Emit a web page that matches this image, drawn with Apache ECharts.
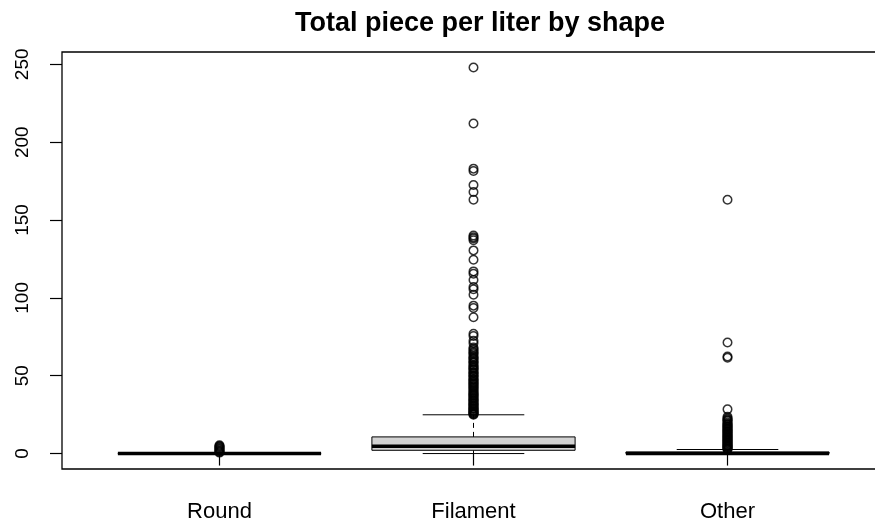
<!DOCTYPE html>
<html>
<head>
<meta charset="utf-8">
<title>Total piece per liter by shape</title>
<script src="https://cdn.jsdelivr.net/npm/echarts@6/dist/echarts.min.js"></script>
<style>
  html, body { margin: 0; padding: 0; background: #fff; }
  #chart { width: 875px; height: 521px; }
</style>
</head>
<body>
<div id="chart"></div>
<script>
// Shapes on the x axis
const categories = ['Round', 'Filament', 'Other'];
const yTicks = [0, 50, 100, 150, 200, 250];

// Five-number summaries per shape (lower whisker, Q1, median, Q3, upper whisker)
const boxMin = [0, 0, 0];
const boxQ1 = [0, 2.1, 0];
const boxMedian = [0, 4.7, 0];
const boxQ3 = [0, 10.7, 1.0];
const boxMax = [0, 24.9, 2.6];

// Points beyond the whiskers
const roundOutliers = [0.6, 1.1, 1.7, 2.2, 2.8, 3.3, 3.9, 4.4, 4.9, 5.3];
const filamentOutliers = [
  248, 212, 183, 181.5, 172.5, 168, 163, 140, 139, 138.2, 137, 130.5, 124.5,
  117, 115.5, 111.5, 107, 105.5, 102, 95, 93.5, 87.5, 77, 75.5, 72.5, 70.9,
  68.1, 67.2, 66.4, 65.2, 64.6, 63.8, 62.5, 61.7, 61.1, 60.4, 59.3, 58.7,
  58.1, 56.9, 56.2, 55.5, 54.8, 54.1, 53.6, 52.3, 51.9, 51.5, 50.2, 49.8,
  49.4, 48, 47.6, 47.2, 46.3, 45.7, 45.1, 44.5, 43.8, 43.2, 42.6, 41.9, 41.3,
  40.5, 39.8, 39.1, 38.6, 37.9, 37.4, 37, 36.1, 35.6, 35, 34.2, 33.9, 33.5,
  32.4, 32, 31.8, 31, 30.5, 30.1, 29.3, 28.9, 28.6, 28, 27.4, 27.1, 26.5,
  26.1, 25.8, 25.2, 24.9
];
const otherOutliers = [
  163, 71.3, 62.3, 61.5, 28.4, 23.6, 22.7, 22, 21.4, 21, 20.1, 19.3, 18.8,
  18.4, 17.6, 17.2, 16.9, 16, 15.6, 15.3, 14.5, 14.1, 13.8, 13, 12.6, 12.3,
  11.5, 11.1, 10.8, 10.1, 9.7, 9.4, 8.6, 8.3, 8, 7.3, 6.9, 6.5, 5.9, 5.5,
  5.2, 4.6, 4.3, 4, 3.3, 3.1, 2.8
];

const FONT = "'Liberation Sans', Arial, sans-serif";

const boxData = categories.map((c, i) => [i + 1, boxMin[i], boxQ1[i], boxMedian[i], boxQ3[i], boxMax[i]]);
const outlierData = [];
[roundOutliers, filamentOutliers, otherOutliers].forEach((list, i) => {
  list.forEach(v => outlierData.push([i + 1, v]));
});

function renderBox(params, api) {
  const x = api.value(0);
  const pMin = api.coord([x, api.value(1)]);
  const pQ1 = api.coord([x, api.value(2)]);
  const pMed = api.coord([x, api.value(3)]);
  const pQ3 = api.coord([x, api.value(4)]);
  const pMax = api.coord([x, api.value(5)]);
  const boxW = api.size([0.8, 0])[0];
  const halfBox = boxW / 2;
  const halfStaple = boxW / 4;
  const cx = pMed[0];
  const thin = { stroke: '#000', lineWidth: 1 };
  const dashed = { stroke: '#000', lineWidth: 1, lineDash: [5, 4] };
  return {
    type: 'group',
    children: [
      { type: 'line', shape: { x1: cx, y1: pQ1[1], x2: cx, y2: pMin[1] }, style: dashed },
      { type: 'line', shape: { x1: cx, y1: pQ3[1], x2: cx, y2: pMax[1] }, style: dashed },
      { type: 'line', shape: { x1: cx - halfStaple, y1: pMin[1], x2: cx + halfStaple, y2: pMin[1] }, style: thin },
      { type: 'line', shape: { x1: cx - halfStaple, y1: pMax[1], x2: cx + halfStaple, y2: pMax[1] }, style: thin },
      {
        type: 'rect',
        shape: { x: cx - halfBox, y: pQ3[1], width: boxW, height: pQ1[1] - pQ3[1] },
        style: { fill: '#d3d3d3', stroke: '#000', lineWidth: 1 }
      },
      { type: 'line', shape: { x1: cx - halfBox, y1: pMed[1], x2: cx + halfBox, y2: pMed[1] }, style: { stroke: '#000', lineWidth: 3.5 } }
    ]
  };
}

const chart = echarts.init(document.getElementById('chart'), null, { renderer: 'canvas' });
chart.setOption({
  animation: false,
  backgroundColor: '#fff',
  title: {
    text: 'Total piece per liter by shape',
    left: 475,
    top: 5,
    textAlign: 'center',
    textStyle: { fontFamily: FONT, fontWeight: 'bold', fontSize: 27, color: '#000' }
  },
  grid: {
    left: 62, top: 52, width: 823, height: 417,
    show: true, borderColor: '#000', borderWidth: 1.3, backgroundColor: 'transparent',
    outerBoundsMode: 'none'
  },
  xAxis: {
    type: 'value',
    min: 0.38,
    max: 3.62,
    splitLine: { show: false },
    axisLine: { show: false },
    axisTick: { show: true, length: 12, inside: false, customValues: [1, 2, 3], lineStyle: { color: '#000', width: 1.2 } },
    axisLabel: {
      customValues: [1, 2, 3],
      formatter: v => categories[Math.round(v) - 1],
      fontFamily: FONT, fontSize: 22, color: '#000', margin: 32
    }
  },
  yAxis: {
    type: 'value',
    min: -9.92,
    max: 257.92,
    splitLine: { show: false },
    axisLine: { show: false },
    axisTick: { show: true, length: 12, inside: false, customValues: yTicks, lineStyle: { color: '#000', width: 1.2 } },
    axisLabel: {
      customValues: yTicks,
      rotate: 90,
      fontFamily: FONT, fontSize: 19, color: '#000', margin: 30
    }
  },
  series: [
    {
      type: 'custom',
      renderItem: renderBox,
      data: boxData,
      encode: { x: 0, y: [1, 2, 3, 4, 5] },
      silent: true
    },
    {
      type: 'scatter',
      data: outlierData,
      symbol: 'circle',
      symbolSize: 8.5,
      itemStyle: { color: 'rgba(0,0,0,0)', borderColor: '#000', borderWidth: 1.5 },
      silent: true
    }
  ]
});
</script>
</body>
</html>
